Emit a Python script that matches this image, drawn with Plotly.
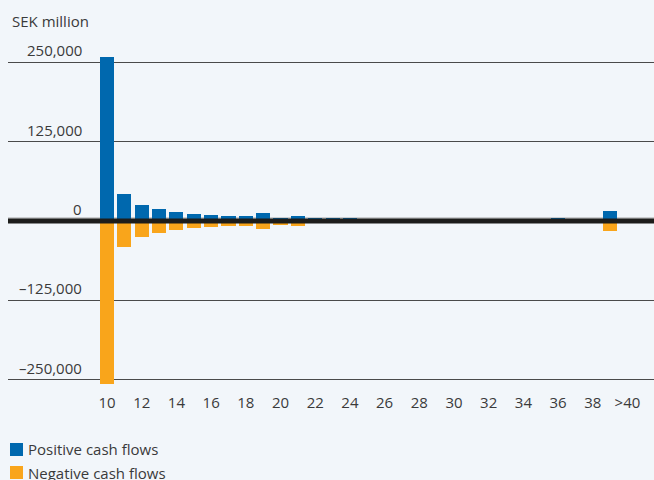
import plotly.graph_objects as go

# Cash-flow maturity profile, SEK million
maturity = list(range(10, 40))
positive = [258000, 42500, 25000, 19000, 14000, 11000, 9400, 7900, 7900, 12600,
            4700, 7900, 4700, 4500, 4500, 2000, 1500, 1500, 1200, 1000,
            1000, 900, 800, 700, 600, 600, 4200, 600, 500, 15700]
negative = [-257000, -40400, -24700, -18400, -13600, -10500, -8900, -7300, -7300, -12000,
            -5700, -7300, -3000, -2600, -2600, -2000, -1500, -1500, -1200, -1000,
            -1000, -900, -800, -700, -600, -600, -1500, -600, -500, -15700]

x_tickvals = list(range(10, 41, 2))
x_ticktext = [str(v) for v in range(10, 40, 2)] + [">40"]
y_tickvals = [250000, 125000, 0, -125000, -250000]
y_ticktext = ["250,000", "125,000", "0", "\u2013125,000", "\u2013250,000"]

BLUE = "#0068ae"
ORANGE = "#f9a51b"
TEXT = "#3a3a3a"
BG = "#f2f6fa"
FONT = "Open Sans"

series = [("Positive cash flows", positive, BLUE),
          ("Negative cash flows", negative, ORANGE)]

fig = go.Figure()
for name, values, color in series:
    fig.add_trace(go.Bar(x=maturity, y=values, name=name, showlegend=False,
                         marker=dict(color=color, line=dict(width=0)), width=0.81))

annotations = [
    dict(text="SEK million", xref="paper", yref="paper", x=0.003, y=1.054,
         xanchor="left", yanchor="middle", showarrow=False,
         font=dict(family=FONT, size=15, color=TEXT)),
]
for v, t in zip(y_tickvals, y_ticktext):
    annotations.append(dict(text=t, xref="paper", yref="y", x=0.1176, y=v,
                            xanchor="right", yanchor="bottom", yshift=0,
                            showarrow=False,
                            font=dict(family=FONT, size=15, color=TEXT)))

shapes = [
    # faint rule just above the baseline
    dict(type="line", xref="paper", x0=0, x1=1, yref="y", ysizemode="pixel",
         yanchor=0, y0=3, y1=3, line=dict(color="#a6a6a6", width=1), layer="below"),
    # heavy baseline drawn over the bars
    dict(type="line", xref="paper", x0=0, x1=1, yref="y", y0=0, y1=0,
         line=dict(color="#1d1d1b", width=5), layer="above"),
]

# legend below the chart: colour key square followed by the series name
key_rows = [(-0.1449, -0.1818), (-0.2102, -0.2472)]
for (name, _, color), (top, bottom) in zip(series, key_rows):
    shapes.append(dict(type="rect", xref="paper", yref="paper",
                       x0=0.0031, x1=0.0232, y0=bottom, y1=top,
                       fillcolor=color, line=dict(width=0), layer="above"))
    annotations.append(dict(text=name, xref="paper", yref="paper",
                            x=0.0274, y=(top + bottom) / 2,
                            xanchor="left", yanchor="middle", showarrow=False,
                            font=dict(family=FONT, size=15, color=TEXT)))

fig.update_layout(
    width=654, height=480, autosize=False,
    margin=dict(l=8, r=0, t=40, b=88, pad=0, autoexpand=False),
    paper_bgcolor=BG, plot_bgcolor=BG,
    barmode="relative", bargap=0,
    font=dict(family=FONT, size=15, color=TEXT),
    showlegend=False,
    annotations=annotations,
    shapes=shapes,
)
fig.update_xaxes(range=[4.29, 41.53], tickmode="array", tickvals=x_tickvals,
                 ticktext=x_ticktext, showgrid=False, zeroline=False, showline=False,
                 ticks="", tickfont=dict(family=FONT, size=15, color=TEXT))
fig.update_yaxes(range=[-268900, 284600], tickmode="array", tickvals=y_tickvals,
                 showticklabels=False, showgrid=True, gridcolor="#4a4a4a", gridwidth=1,
                 zeroline=False, showline=False, ticks="")

fig.write_html("out.html")
